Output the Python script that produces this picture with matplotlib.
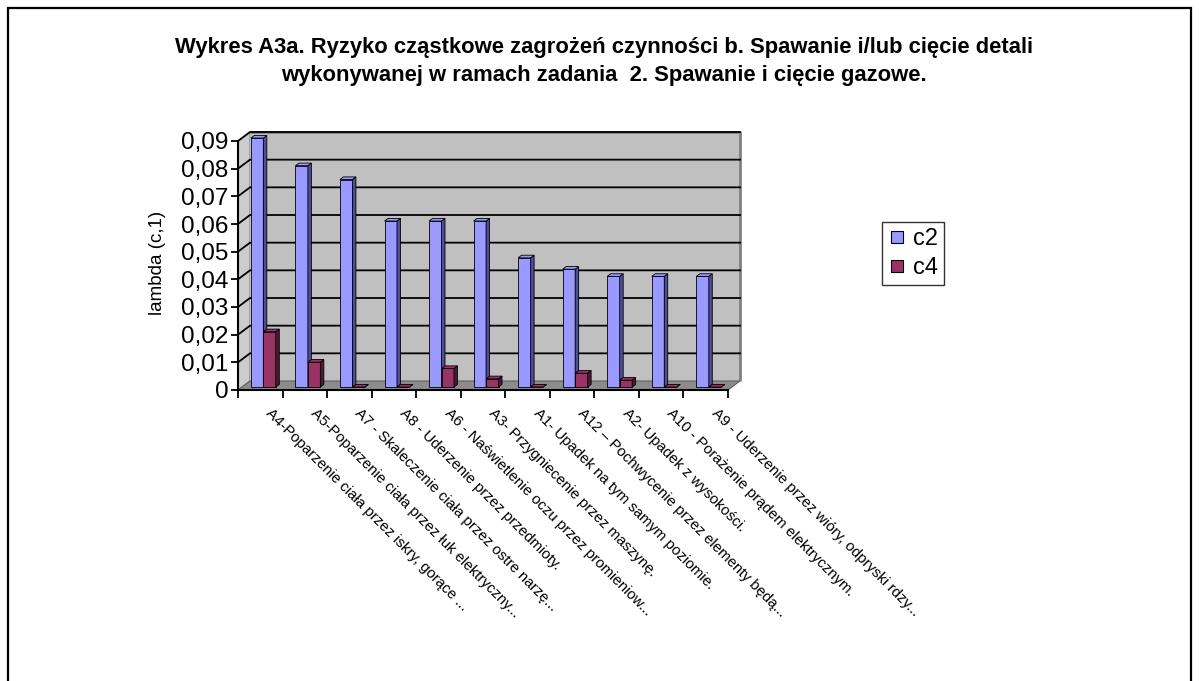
import matplotlib
matplotlib.use("Agg")
import matplotlib.pyplot as plt
from matplotlib.patches import Polygon, Rectangle
from matplotlib.lines import Line2D
from matplotlib.transforms import ScaledTranslation

plt.rcParams['font.family'] = ['Liberation Sans', 'DejaVu Sans']

# ---- data -------------------------------------------------------------
categories = [
    "A4-Poparzenie ciała przez iskry, gorące ...",
    "A5-Poparzenie ciała przez łuk elektryczny...",
    "A7 - Skaleczenie ciała przez ostre narzę...",
    "A8 - Uderzenie przez przedmioty.",
    "A6 - Naświetlenie oczu przez promieniow...",
    "A3- Przygniecenie przez maszynę.",
    "A1- Upadek na tym samym poziomie.",
    "A12 – Pochwycenie przez elementy będą...",
    "A2- Upadek z wysokości.",
    "A10 - Porażenie prądem elektrycznym.",
    "A9 - Uderzenie przez wióry, odpryski rdzy...",
]
c2 = [0.09, 0.08, 0.075, 0.06, 0.06, 0.06, 0.0467, 0.0426, 0.04, 0.04, 0.04]
c4 = [0.02, 0.009, 0.0, 0.0, 0.0067, 0.003, 0.0, 0.005, 0.0025, 0.0, 0.0]
series_names = ["c2", "c4"]
yticks = [0, 0.01, 0.02, 0.03, 0.04, 0.05, 0.06, 0.07, 0.08, 0.09]

title_lines = [
    "Wykres A3a. Ryzyko cząstkowe zagrożeń czynności b. Spawanie i/lub cięcie detali",
    "wykonywanej w ramach zadania  2. Spawanie i cięcie gazowe.",
]
ylabel = "lambda (c,1)"

# ---- styling ------------------------------------------------------------
front_colors = ["#9999FF", "#993366"]
side_colors = ["#4D4D99", "#4D1A33"]
wall_color = "#C0C0C0"
floor_color = "#8C8C8C"

W, H = 1199, 681
fig = plt.figure(figsize=(W / 100, H / 100), dpi=100)

# outer chart-area frame
fig.add_artist(Rectangle((8 / W, -0.05), (1191 - 8) / W, 1.05 - 8 / H,
                         transform=fig.transFigure, fill=False,
                         edgecolor="black", linewidth=1.6))

# front plane of the 3-D plot
x_left, x_right = 238, 728
y_zero, y_top = 390, 141
ax = fig.add_axes([x_left / W, (H - y_zero) / H,
                   (x_right - x_left) / W, (y_zero - y_top) / H])
n = len(categories)
ymax = yticks[-1]
ax.set_xlim(0, n)
ax.set_ylim(0, ymax)
ax.patch.set_visible(False)

# depth of the box in data units
DX = 12 / ((x_right - x_left) / n)
DY = 9 / ((y_zero - y_top) / ymax)


def add_poly(pts, fc, ec="none", lw=0.0, z=1):
    ax.add_patch(Polygon(pts, closed=True, facecolor=fc, edgecolor=ec,
                         linewidth=lw, zorder=z, clip_on=False))


# side wall, back wall, floor
add_poly([(0, 0), (0, ymax), (DX, ymax + DY), (DX, DY)], "#CCCCCC", "#808080", 0.8, 0.5)
add_poly([(DX, DY), (n + DX, DY), (n + DX, ymax + DY), (DX, ymax + DY)],
         wall_color, "none", 0, 0.5)
ax.plot([DX, n + DX, n + DX], [ymax + DY, ymax + DY, DY], color="#808080",
        lw=2.0, zorder=0.6, clip_on=False, solid_capstyle="butt")
add_poly([(0, 0), (n, 0), (n + DX, DY), (DX, DY)], floor_color, "#606060", 0.8, 0.7)

# gridlines on side and back walls
for v in yticks[1:]:
    ax.plot([0, DX, n + DX], [v, v + DY, v + DY], color="black", lw=1.3,
            zorder=0.8, clip_on=False)

# bars as prisms
t0, t1 = 0.33, 0.62          # depth position of bar front/back
bw = 0.28
offsets = [0.20, 0.48]
for i in range(n):
    for s, vals in enumerate([c2, c4]):
        v = vals[i]
        x0 = i + offsets[s] + t0 * DX
        y0 = t0 * DY
        dx = (t1 - t0) * DX
        dy = (t1 - t0) * DY
        z = 2 + i * 2 + s
        ax.bar(x0, v, width=bw, bottom=y0, align="edge", color=front_colors[s],
               edgecolor="black", linewidth=0.6, zorder=z, clip_on=False)
        add_poly([(x0 + bw, y0), (x0 + bw, y0 + v), (x0 + bw + dx, y0 + v + dy),
                  (x0 + bw + dx, y0 + dy)], side_colors[s], "black", 0.6, z)
        add_poly([(x0, y0 + v), (x0 + bw, y0 + v), (x0 + bw + dx, y0 + v + dy),
                  (x0 + dx, y0 + v + dy)], front_colors[s], "black", 0.6, z)

# axes, ticks, labels
for side in ["top", "right"]:
    ax.spines[side].set_visible(False)
for side in ["left", "bottom"]:
    ax.spines[side].set_linewidth(1.5)
    ax.spines[side].set_zorder(50)
ax.set_yticks(yticks)
ax.set_yticklabels([("%.2f" % v).replace(".", ",") if v else "0" for v in yticks],
                   fontsize=17.5)
ax.tick_params(axis="y", length=5, width=1.3, pad=2)
ax.set_xticks(range(n + 1))
ax.set_xticklabels([])
ax.tick_params(axis="x", which="major", length=6, width=1.3)

# rotated category labels below the front edge
lab_shift = ScaledTranslation(13 / 100, -16 / 100, fig.dpi_scale_trans)
for i, name in enumerate(categories):
    ax.text(i + 0.5, 0, name, transform=ax.transData + lab_shift,
            rotation=-45, rotation_mode="anchor", ha="left", va="top",
            fontsize=10.8, clip_on=False)

fig.text(158 / W, 1 - 263 / H, ylabel, rotation=90, ha="center", va="center",
         fontsize=13.5)

fig.text(604 / W, 1 - 47 / H, title_lines[0], ha="center", va="center",
         fontsize=15.8, fontweight="bold")
fig.text(604 / W, 1 - 75 / H, title_lines[1], ha="center", va="center",
         fontsize=15.8, fontweight="bold")

handles = [Line2D([], [], marker="s", linestyle="none", markersize=9,
                  markerfacecolor=front_colors[k], markeredgecolor="black",
                  markeredgewidth=0.8) for k in range(2)]
fig.legend(handles, series_names, loc="upper left",
           bbox_to_anchor=(882 / W, 1 - 222 / H), frameon=True, fancybox=False,
           edgecolor="black", fontsize=17, handletextpad=0.25,
           borderpad=0.25, labelspacing=0.3, handlelength=0.8, borderaxespad=0)

fig.savefig("out.png", dpi=100)
